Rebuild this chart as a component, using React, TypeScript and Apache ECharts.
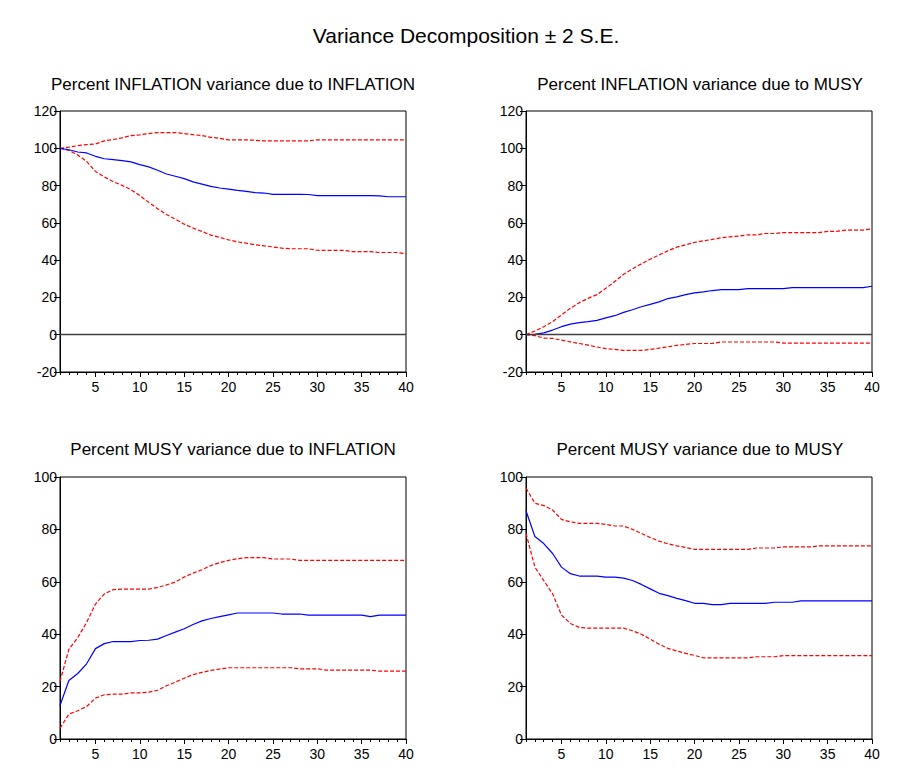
import React, { useEffect, useRef } from "react";
import * as echarts from "echarts";

const periods = ["1","2","3","4","5","6","7","8","9","10","11","12","13","14","15","16","17","18","19","20","21","22","23","24","25","26","27","28","29","30","31","32","33","34","35","36","37","38","39","40"];

const mainTitle = "Variance Decomposition \u00b1 2 S.E.";
const panelTitles = [
  "Percent INFLATION variance due to INFLATION",
  "Percent INFLATION variance due to MUSY",
  "Percent MUSY variance due to INFLATION",
  "Percent MUSY variance due to MUSY",
];

// Panel 1: INFLATION due to INFLATION
const infInfMid = [100, 99.2, 98, 97.5, 95.7, 94.4, 93.9, 93.4, 92.7, 91.2, 90, 88.2, 86.2, 85, 83.7, 82, 80.8, 79.6, 78.7, 78.1, 77.4, 76.9, 76.2, 76, 75.3, 75.3, 75.3, 75.3, 75.2, 74.6, 74.6, 74.6, 74.6, 74.6, 74.6, 74.6, 74.5, 74, 74, 74];
const infInfUp = [100, 100.6, 101.4, 102, 102.3, 104, 104.7, 105.6, 106.8, 107.2, 107.9, 108.4, 108.4, 108.4, 107.9, 107.3, 106.8, 105.9, 105.4, 104.5, 104.5, 104.5, 104.3, 104, 104, 104, 104, 104, 104, 104.5, 104.5, 104.5, 104.5, 104.5, 104.5, 104.5, 104.5, 104.5, 104.5, 104.5];
const infInfLo = [100, 98.9, 96.4, 93, 87.6, 84.6, 82.1, 80.1, 77.8, 74.6, 71, 67.6, 64.5, 62, 59.3, 57.2, 55.4, 53.4, 52.2, 50.9, 49.8, 49.1, 48.2, 47.7, 47.1, 46.4, 46.1, 46.1, 46.1, 45.3, 45.2, 45.2, 45.2, 44.6, 44.6, 44.6, 44.1, 44.1, 44.1, 43.4];

// Panel 2: INFLATION due to MUSY
const infMusMid = [0, 0.2, 1, 2.5, 4.3, 5.7, 6.5, 7, 7.7, 9, 10.2, 12, 13.4, 15, 16.3, 17.6, 19.4, 20.3, 21.5, 22.4, 23, 23.7, 24.2, 24.2, 24.2, 24.7, 24.7, 24.7, 24.7, 24.7, 25.3, 25.3, 25.3, 25.3, 25.3, 25.3, 25.3, 25.3, 25.3, 26];
const infMusUp = [0, 2, 4.3, 7, 10.6, 14.2, 17.2, 19.5, 21.5, 24.9, 28.5, 32.4, 35.3, 38, 40.5, 42.8, 45, 47, 48.2, 49.5, 50.4, 51.1, 52, 52.5, 52.9, 53.6, 53.6, 54.3, 54.3, 54.8, 54.8, 54.8, 54.8, 54.8, 55.4, 55.4, 56.1, 56.1, 56.1, 56.8];
const infMusLo = [0, -0.5, -1.8, -2, -2.9, -3.8, -4.7, -5.6, -6.6, -7.5, -7.9, -8.4, -8.4, -8.4, -7.9, -7.2, -6.5, -5.7, -5.2, -4.7, -4.7, -4.7, -3.9, -3.9, -3.9, -3.9, -3.9, -3.9, -3.9, -4.5, -4.5, -4.5, -4.5, -4.5, -4.5, -4.5, -4.5, -4.5, -4.5, -4.5];

// Panel 3: MUSY due to INFLATION
const musInfMid = [12.8, 22.3, 25, 28.7, 34.5, 36.4, 37.2, 37.2, 37.2, 37.6, 37.7, 38.1, 39.5, 40.8, 42.1, 43.7, 45.1, 46, 46.7, 47.4, 48.1, 48.1, 48.1, 48.1, 48.1, 47.7, 47.7, 47.7, 47.3, 47.3, 47.3, 47.3, 47.3, 47.3, 47.3, 46.7, 47.3, 47.3, 47.3, 47.3];
const musInfUp = [22, 34.2, 38.7, 44.5, 51.5, 55.4, 57, 57.2, 57.2, 57.2, 57.2, 57.9, 58.8, 59.9, 61.8, 63.3, 64.6, 66.2, 67.3, 68.2, 68.8, 69.2, 69.2, 69.2, 68.7, 68.7, 68.7, 68.2, 68.2, 68.2, 68.2, 68.2, 68.2, 68.2, 68.2, 68.2, 68.2, 68.2, 68.2, 68.2];
const musInfLo = [4.1, 9.5, 10.8, 12.4, 15.6, 16.9, 17.1, 17.1, 17.6, 17.6, 17.9, 18.6, 20.3, 21.7, 23.2, 24.6, 25.4, 26.2, 26.7, 27.2, 27.2, 27.2, 27.2, 27.2, 27.2, 27.2, 27.2, 26.8, 26.8, 26.8, 26.3, 26.3, 26.3, 26.3, 26.3, 26.3, 25.9, 25.9, 25.9, 25.9];

// Panel 4: MUSY due to MUSY
const musMusMid = [87.1, 77.3, 74.6, 70.8, 65.6, 63.1, 62.2, 62.2, 62.2, 61.8, 61.8, 61.4, 60.5, 59, 57.3, 55.6, 54.7, 53.7, 52.8, 51.8, 51.8, 51.3, 51.3, 51.8, 51.8, 51.8, 51.8, 51.8, 52.2, 52.2, 52.2, 52.7, 52.7, 52.7, 52.7, 52.7, 52.7, 52.7, 52.7, 52.7];
const musMusUp = [95.8, 90, 89.1, 87.4, 83.8, 82.9, 82.3, 82.3, 82.3, 81.9, 81.3, 81.3, 80, 78.5, 76.9, 75.5, 74.5, 73.7, 73.1, 72.4, 72.4, 72.4, 72.4, 72.4, 72.4, 72.4, 72.9, 72.9, 72.9, 73.3, 73.3, 73.3, 73.3, 73.7, 73.7, 73.7, 73.7, 73.7, 73.7, 73.7];
const musMusLo = [78.5, 65.6, 60.5, 55.4, 47.3, 44.1, 42.6, 42.3, 42.3, 42.3, 42.3, 42.3, 41.3, 40, 38.1, 36.2, 34.6, 33.6, 32.7, 31.9, 31, 31, 31, 31, 31, 31, 31.4, 31.4, 31.4, 31.8, 31.8, 31.8, 31.8, 31.8, 31.8, 31.8, 31.8, 31.8, 31.8, 31.8];

const yMins = [-20, -20, 0, 0];
const yMaxs = [120, 120, 100, 100];

const FONT = "'Liberation Sans', Arial, sans-serif";

export default function App() {
  const ref = useRef<HTMLDivElement>(null);

  useEffect(() => {
    if (!ref.current) return;
    const chart = echarts.init(ref.current, null, { renderer: "svg" });

    const grids = [
      { left: 60, top: 111, width: 346, height: 261 },
      { left: 526, top: 111, width: 346, height: 261 },
      { left: 60, top: 477, width: 346, height: 262 },
      { left: 526, top: 477, width: 346, height: 262 },
    ];
    const titleCenters = [
      [233, 84],
      [700, 84],
      [233, 449],
      [700, 449],
    ];
    const panels = [
      [infInfMid, infInfUp, infInfLo],
      [infMusMid, infMusUp, infMusLo],
      [musInfMid, musInfUp, musInfLo],
      [musMusMid, musMusUp, musMusLo],
    ];

    const xAxis: any[] = [];
    const yAxis: any[] = [];
    const series: any[] = [];

    grids.forEach((_, i) => {
      xAxis.push({
        type: "category",
        gridIndex: i,
        data: periods,
        boundaryGap: false,
        position: "bottom",
        axisLine: { onZero: false, lineStyle: { color: "#000", width: 1 } },
        axisTick: { show: true, interval: 0, length: 3, lineStyle: { color: "#000" } },
        axisLabel: {
          interval: (idx: number) => (idx + 1) % 5 === 0,
          color: "#000",
          fontFamily: FONT,
          fontSize: 14,
          margin: 8,
        },
        splitLine: { show: false },
      });
      xAxis.push({
        type: "category",
        gridIndex: i,
        data: periods,
        boundaryGap: false,
        position: "bottom",
        axisLine: { show: false, onZero: false },
        axisTick: {
          show: true,
          interval: (idx: number) => (idx + 1) % 5 === 0,
          length: 5,
          lineStyle: { color: "#000" },
        },
        axisLabel: { show: false },
        splitLine: { show: false },
      });
      yAxis.push({
        type: "value",
        gridIndex: i,
        min: yMins[i],
        max: yMaxs[i],
        interval: 20,
        axisLine: { show: true, onZero: false, lineStyle: { color: "#000", width: 1 } },
        axisTick: { show: true, length: 6, lineStyle: { color: "#000" } },
        axisLabel: { color: "#000", fontFamily: FONT, fontSize: 14, margin: 3 },
        splitLine: { show: false },
      });

      const [mid, up, lo] = panels[i];
      const base = {
        type: "line",
        xAxisIndex: i * 2,
        yAxisIndex: i,
        symbol: "none",
        silent: true,
      };
      series.push({
        ...base,
        name: "mid" + i,
        data: mid,
        lineStyle: { color: "#0000ff", width: 1.2, type: "solid" },
        z: 3,
        markLine:
          yMins[i] < 0
            ? {
                silent: true,
                symbol: "none",
                label: { show: false },
                lineStyle: { color: "#404040", width: 1.3, type: "solid" },
                data: [{ yAxis: 0 }],
              }
            : undefined,
      });
      series.push({
        ...base,
        name: "up" + i,
        data: up,
        lineStyle: { color: "#ff0000", width: 1.2, type: [4, 2] },
        z: 2,
      });
      series.push({
        ...base,
        name: "lo" + i,
        data: lo,
        lineStyle: { color: "#ff0000", width: 1.2, type: [4, 2] },
        z: 2,
      });
    });

    const graphic: any[] = [
      {
        type: "text",
        x: 466,
        y: 35,
        style: {
          text: mainTitle,
          fontFamily: FONT,
          fontSize: 21,
          fill: "#000",
          align: "center",
          verticalAlign: "middle",
        },
      },
    ];
    panelTitles.forEach((t, i) => {
      graphic.push({
        type: "text",
        x: titleCenters[i][0],
        y: titleCenters[i][1],
        style: {
          text: t,
          fontFamily: FONT,
          fontSize: 17,
          fill: "#000",
          align: "center",
          verticalAlign: "middle",
        },
      });
    });

    chart.setOption({
      animation: false,
      backgroundColor: "#fff",
      grid: grids.map((g) => ({
        ...g,
        show: true,
        borderColor: "#000",
        borderWidth: 1,
        backgroundColor: "transparent",
        containLabel: false,
      })),
      xAxis,
      yAxis,
      series,
      graphic,
    });

    return () => chart.dispose();
  }, []);

  return (
    <div
      ref={ref}
      style={{ position: "absolute", left: 0, top: 0, width: 901, height: 780 }}
    />
  );
}
